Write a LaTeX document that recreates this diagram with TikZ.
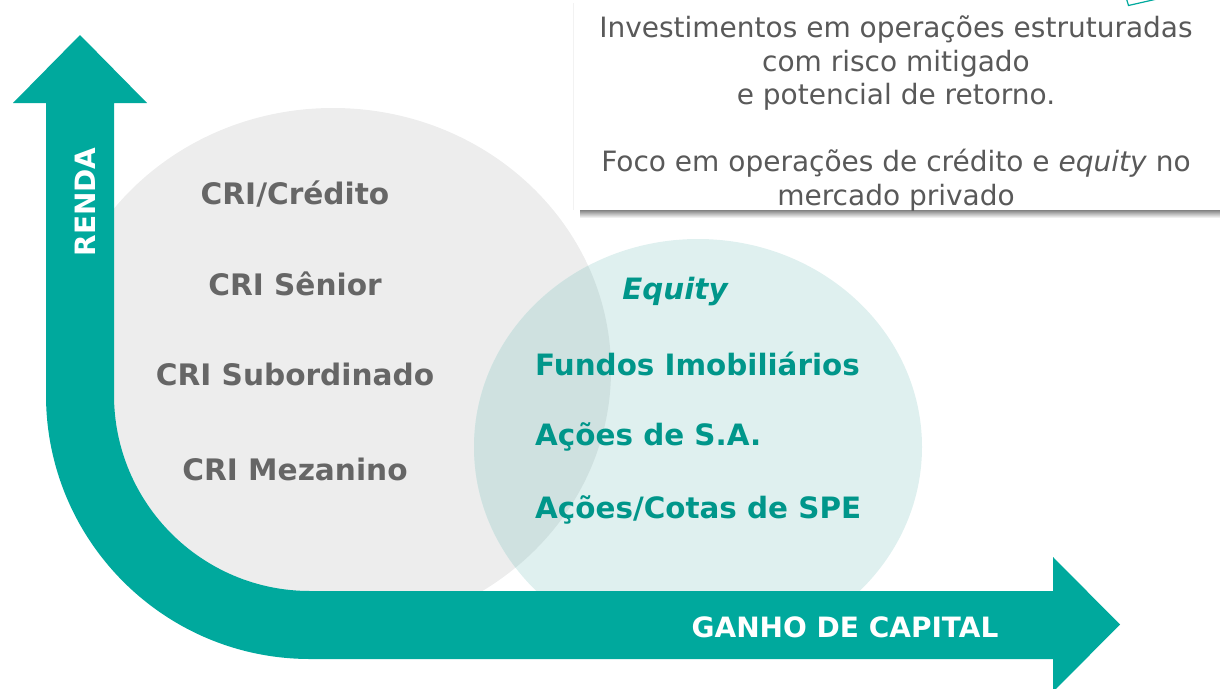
\documentclass[tikz,border=0pt]{standalone}
\usepackage{fontspec}
\setmainfont{DejaVu Sans}
\usepackage{tikz}
\definecolor{arrowteal}{HTML}{00A99D}
\definecolor{circlegray}{HTML}{EDEDED}
\definecolor{circleteal}{HTML}{DFF0EF}
\definecolor{overlapteal}{HTML}{CFE1E0}
\definecolor{labelgray}{HTML}{666666}
\definecolor{labelteal}{HTML}{00968A}
\definecolor{notegray}{HTML}{595959}

\begin{document}
\begin{tikzpicture}[x=1pt, y=-1pt,
  crilabel/.style={anchor=base, inner sep=0pt, text=labelgray, font=\fontsize{29.6}{36}\selectfont\bfseries},
  equitylabel/.style={anchor=base west, inner sep=0pt, text=labelteal, font=\fontsize{29.4}{36}\selectfont\bfseries},
  axislabel/.style={anchor=base, inner sep=0pt, text=white, font=\fontsize{28}{34}\selectfont\bfseries}]
\useasboundingbox (0,0) rectangle (1220,688);
\coordinate (G) at (333,370);
\coordinate (E) at (698,447);
\coordinate (K) at (310,395);
\fill [circlegray] (G) ellipse [x radius=278, y radius=262];
\fill [circleteal] (E) ellipse [x radius=224, y radius=208];
\begin{scope}
\clip (G) ellipse [x radius=278, y radius=262];
\fill [overlapteal] (E) ellipse [x radius=224, y radius=208];
\end{scope}
\fill [arrowteal] (80,35) -- (147,103) -- (114,103) -- (114,395) arc [start angle=180, end angle=90, radius=196] -- (1053,591) -- (1053,557) -- (1120,624.5) -- (1053,692) -- (1053,659) -- (310,659) arc [start angle=90, end angle=180, radius=264] -- (46,103) -- (13,103) -- cycle;
\shade [top color=black!55, bottom color=white] (580,209) rectangle (1220,218);
\fill [white] (573,3) rectangle (1225,210);
\draw [black!5] (573,3) -- (573,210);
\draw [arrowteal, line width=1.2pt] (1126.5,-1) -- (1128.5,5.5) -- (1157,-1);
\node at (896,16) [name=note, anchor=north, inner sep=0pt, align=center, text=notegray, font=\fontsize{28}{33.5}\selectfont] {Investimentos em operações estruturadas\\ com risco mitigado\\ e potencial de retorno.\\[33.5pt] Foco em operações de crédito e \emph{equity} no\\ mercado privado};
\node at (295,204) [name=credito, crilabel] {CRI/Crédito};
\node at (295,295) [name=senior, crilabel] {CRI Sênior};
\node at (295,385) [name=subordinado, crilabel] {CRI Subordinado};
\node at (295,480) [name=mezanino, crilabel] {CRI Mezanino};
\node at (675,299) [name=equity, equitylabel, anchor=base] {\itshape Equity};
\node at (535,375) [name=fundos, equitylabel] {Fundos Imobiliários};
\node at (535,445) [name=acoes, equitylabel] {Ações de S.A.};
\node at (535,518) [name=cotas, equitylabel] {Ações/Cotas de SPE};
\node at (95,202) [name=renda, axislabel, rotate=90] {RENDA};
\node at (845,637) [name=ganho, axislabel] {GANHO DE CAPITAL};
\end{tikzpicture}
\end{document}
